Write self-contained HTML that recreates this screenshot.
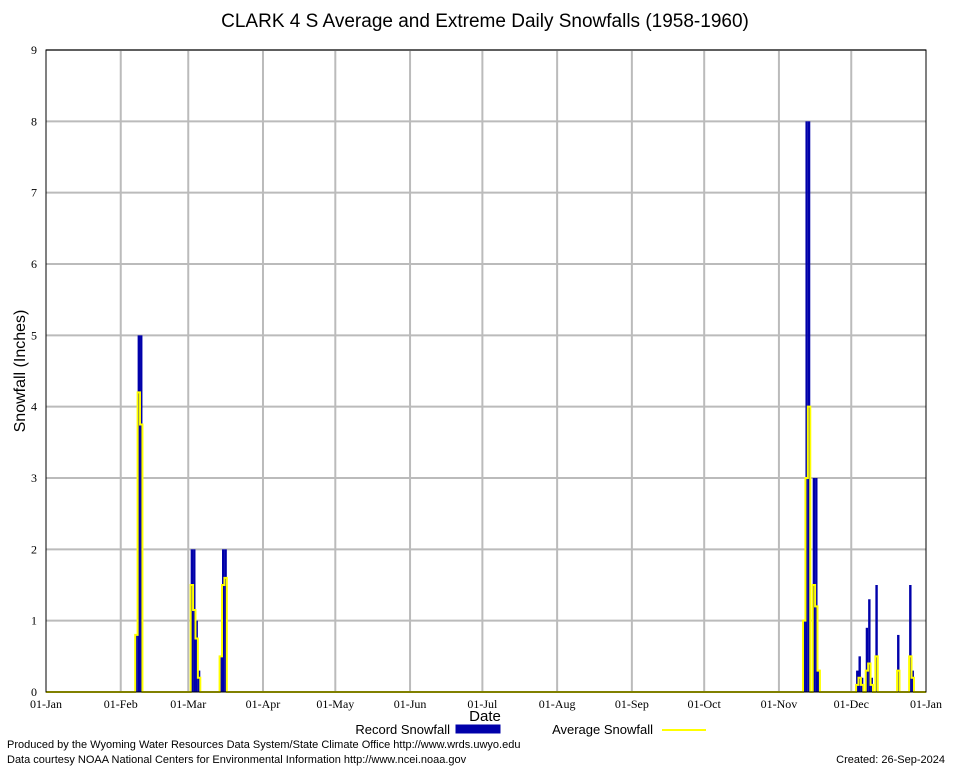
<!DOCTYPE html>
<html><head><meta charset="utf-8"><style>
body{margin:0;background:#fff;}
svg{display:block;font-family:"Liberation Sans",sans-serif;}
</style></head><body>
<svg id="c" width="954" height="768">
<text x="485" y="27" font-size="19" text-anchor="middle">CLARK 4 S Average and Extreme Daily Snowfalls (1958-1960)</text>
<g id="grid"></g><g id="bars"></g><g id="axes"></g>
<text transform="translate(25,371) rotate(-90)" font-size="16" text-anchor="middle">Snowfall (Inches)</text>
<text x="485" y="721" font-size="15" text-anchor="middle">Date</text>
<g>
<text x="450" y="734" font-size="13" text-anchor="end">Record Snowfall</text>
<rect x="456" y="725" width="44" height="8" fill="#00a" stroke="#00a"/>
<text x="653" y="734" font-size="13" text-anchor="end">Average Snowfall</text>
<line x1="662" y1="730" x2="706" y2="730" stroke="#ff0" stroke-width="2"/>
</g>
<text x="7" y="748" font-size="11">Produced by the Wyoming Water Resources Data System/State Climate Office http://www.wrds.uwyo.edu</text>
<text x="7" y="763" font-size="11">Data courtesy NOAA National Centers for Environmental Information http://www.ncei.noaa.gov</text>
<text x="945" y="763" font-size="11" text-anchor="end">Created:  26-Sep-2024</text>
</svg>
<script>
const days=[37,38,39,60,61,62,63,72,73,74,314,315,316,318,319,320,336,337,338,340,341,342,344,353,358,359];
const record=[0.8,5,5,2,2,1,0.3,0.5,2,2,1,8,8,3,3,0.3,0.3,0.5,0.2,0.9,1.3,0.2,1.5,0.8,1.5,0.3];
const average=[0.8,4.2,3.75,1.5,1.15,0.75,0.2,0.5,1.5,1.6,1,3,4,1.5,1.2,0.3,0.1,0.2,0.1,0.3,0.4,0.1,0.5,0.3,0.5,0.2];
const monthLabels=["01-Jan","01-Feb","01-Mar","01-Apr","01-May","01-Jun","01-Jul","01-Aug","01-Sep","01-Oct","01-Nov","01-Dec","01-Jan"];
const monthStarts=[0,31,59,90,120,151,181,212,243,273,304,334,365];
const yTicks=[0,1,2,3,4,5,6,7,8,9];
const X0=46,X1=926,Y0=692,Y1=50;
const xs=d=>X0+d*(X1-X0)/365, ys=v=>Y0-v*(Y0-Y1)/9;
const NS="http://www.w3.org/2000/svg";
function mk(t,a,p){const e=document.createElementNS(NS,t);for(const k in a)e.setAttribute(k,a[k]);p.appendChild(e);return e;}
const G=document.getElementById('grid'),B=document.getElementById('bars'),A=document.getElementById('axes');
yTicks.forEach(v=>{
 if(v>0){const l=mk('line',{x1:X0,x2:X1,y1:ys(v),y2:ys(v),stroke:'#bbb','stroke-width':2},G);
 
 }
 const t=mk('text',{x:37,y:ys(v)+4,'font-size':12,'text-anchor':'end','font-family':'Liberation Serif, serif'},A);t.textContent=v;
 
 
});
monthStarts.forEach((d,i)=>{
 if(i>0&&i<12){const l=mk('line',{x1:xs(d),x2:xs(d),y1:Y1,y2:Y0,stroke:'#bbb','stroke-width':2},G);
 
 }
 const t=mk('text',{x:xs(d),y:708,'font-size':12,'text-anchor':'middle','font-family':'Liberation Serif, serif'},A);t.textContent=monthLabels[i];
 
 
});
const w=(X1-X0)/365;
days.forEach((d,i)=>{
 const r=mk('rect',{x:xs(d),y:ys(record[i]),width:w,height:Y0-ys(record[i]),fill:'#00a'},B);
 
 
});
let p='M'+X0+' '+Y0;
const avgMap={};days.forEach((d,i)=>avgMap[d]=average[i]);
for(let d=0;d<365;d++){const v=avgMap[d]||0;p+=' L'+xs(d)+' '+ys(v)+' L'+xs(d+1)+' '+ys(v);}
const path=mk('path',{d:p,fill:'none',stroke:'#ff0','stroke-width':2},B);


const fr=mk('rect',{x:X0,y:Y1,width:X1-X0,height:Y0-Y1,fill:'none',stroke:'#000','stroke-width':1},A);


</script>
</body></html>
